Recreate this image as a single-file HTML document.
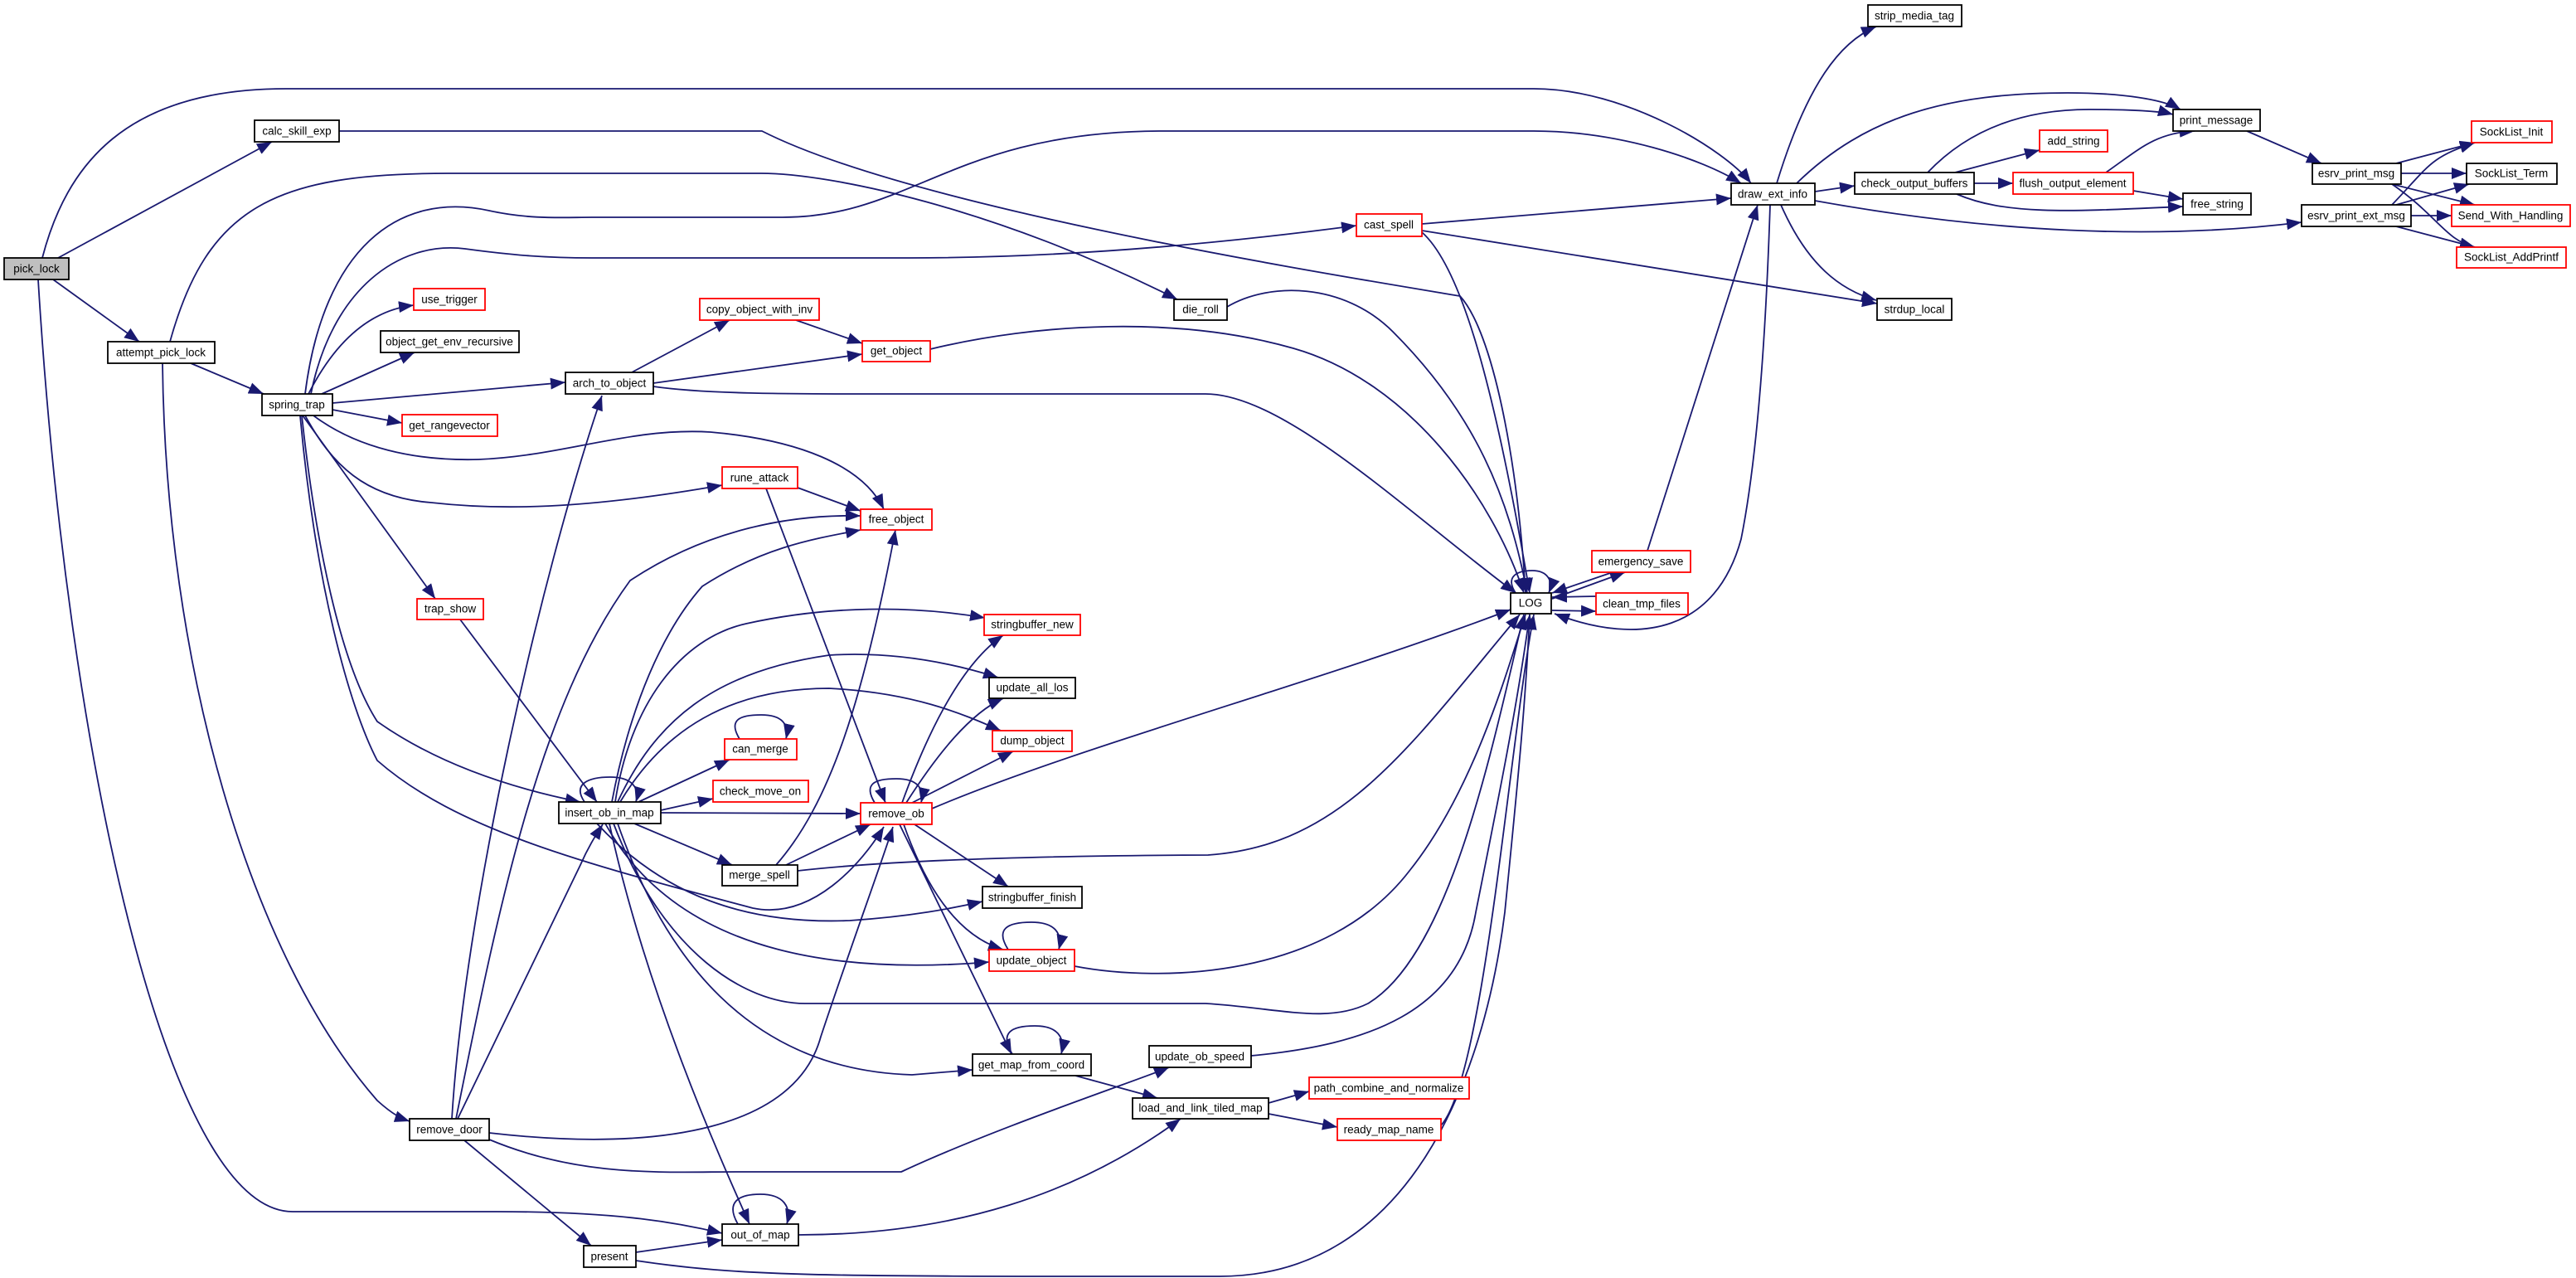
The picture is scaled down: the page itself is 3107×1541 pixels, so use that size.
<!DOCTYPE html>
<html><head><meta charset="utf-8"><style>
html,body{margin:0;padding:0;background:#fff;}
svg{display:block;}
text{font-family:"Liberation Sans",sans-serif;font-size:13.5px;text-anchor:middle;dominant-baseline:central;fill:#000;}
.e{fill:none;stroke:#191970;stroke-width:1.8;marker-end:url(#a);}
.n{fill:#fff;stroke:#000;stroke-width:1.8;}
.r{fill:#fff;stroke:#ff0000;stroke-width:1.8;}
</style></head><body>
<svg width="3107" height="1541" viewBox="0 0 3107 1541" xmlns="http://www.w3.org/2000/svg">
<defs><marker id="a" markerUnits="userSpaceOnUse" markerWidth="20" markerHeight="14" refX="18" refY="7" orient="auto"><path d="M0,0 L18,7 L0,14 Z" fill="#191970"/></marker></defs>
<g>
<path class="e" d="M51,311 C80,200 150,107 345,107 L1850,107 C1960,107 2080,180 2112,221"/>
<path class="e" d="M70,311 L328,171"/>
<path class="e" d="M64,337 L168,412"/>
<path class="e" d="M46,337 C80,900 200,1461 353,1461 L600,1461 C750,1461 820,1475 871,1487"/>
<path class="e" d="M409,158 L919,158 C1100,250 1600,330 1761,357 C1800,400 1830,550 1840,715"/>
<path class="e" d="M788,466 C850,475 950,475 1050,475 L1454,475 C1550,475 1700,620 1828,715"/>
<path class="e" d="M205,412 C250,250 330,209 540,209 L918,209 C1000,209 1200,250 1420,361"/>
<path class="e" d="M230,438 L318,475"/>
<path class="e" d="M196,438 C200,800 300,1150 455,1327 C475,1345 485,1349 494,1352"/>
<path class="e" d="M368,475 C390,300 480,230 590,254 C640,265 680,262 714,262 L944,262 C1100,262 1150,158 1403,158 L1850,158 C1950,158 2050,190 2100,221"/>
<path class="e" d="M375,475 C400,350 480,290 561,300 C620,308 660,311 714,311 L1097,311 C1300,311 1500,290 1636,272"/>
<path class="e" d="M372,475 C400,420 440,375 499,368"/>
<path class="e" d="M388,475 L500,425"/>
<path class="e" d="M401,486 L682,461"/>
<path class="e" d="M401,494 L485,510"/>
<path class="e" d="M378,501 C430,540 500,556 577,554 C680,550 760,515 857,521 C960,530 1040,560 1066,614"/>
<path class="e" d="M368,501 C400,560 440,600 520,606 C600,615 700,615 871,585"/>
<path class="e" d="M365,501 L525,722"/>
<path class="e" d="M364,501 C380,650 410,800 455,870 C540,930 640,955 700,967"/>
<path class="e" d="M362,501 C380,700 420,850 455,917 C550,1000 700,1040 908,1095 C980,1110 1040,1040 1066,997"/>
<path class="e" d="M762,449 L880,386"/>
<path class="e" d="M788,462 L1040,427"/>
<path class="e" d="M960,386 L1040,414"/>
<path class="e" d="M1122,421 C1250,390 1420,380 1560,420 C1700,460 1800,600 1838,715"/>
<path class="e" d="M545,1349 C560,1100 650,700 726,477"/>
<path class="e" d="M550,1349 C600,1100 650,850 760,700 C850,640 950,620 1038,622"/>
<path class="e" d="M552,1349 L700,1043 C710,1020 720,1005 727,994"/>
<path class="e" d="M590,1366 C800,1390 960,1360 990,1250 C1030,1130 1060,1050 1077,997"/>
<path class="e" d="M590,1374 C700,1420 800,1413 887,1413 L1087,1413 C1200,1360 1380,1300 1410,1287"/>
<path class="e" d="M560,1375 L713,1502"/>
<path class="e" d="M767,1510 L871,1495"/>
<path class="e" d="M767,1520 C900,1540 1000,1539 1471,1539 C1700,1539 1790,1300 1815,1100 C1830,950 1840,850 1845,741"/>
<path class="e" d="M890,1476 C875,1450 890,1440 917,1440 C945,1440 955,1455 949,1476"/>
<path class="e" d="M963,1489 C1150,1489 1300,1440 1424,1349"/>
<path class="e" d="M735,993 C780,1200 870,1400 904,1476"/>
<path class="e" d="M1297,1297 L1396,1324"/>
<path class="e" d="M1221,1271 C1205,1245 1220,1237 1248,1237 C1275,1237 1285,1250 1280,1271"/>
<path class="e" d="M1530,1330 L1579,1316"/>
<path class="e" d="M1530,1343 L1613,1359"/>
<path class="e" d="M1738,1357 C1790,1300 1820,900 1850,741"/>
<path class="e" d="M1509,1273 C1650,1260 1760,1220 1780,1100 C1810,950 1830,850 1845,741"/>
<path class="e" d="M1296,1165 C1400,1185 1600,1180 1700,1050 C1780,950 1820,800 1840,741"/>
<path class="e" d="M1216,1145 C1200,1120 1215,1112 1244,1112 C1272,1112 1282,1125 1277,1145"/>
<path class="e" d="M1124,975 C1300,900 1600,820 1822,735"/>
<path class="e" d="M962,1050 C1050,1040 1200,1032 1457,1031 C1620,1020 1700,900 1833,741"/>
<path class="e" d="M740,993 C800,1150 900,1210 971,1210 L1454,1210 C1540,1215 1600,1235 1650,1210 C1750,1150 1800,900 1838,741"/>
<path class="e" d="M730,993 C800,1120 950,1180 1193,1160"/>
<path class="e" d="M720,993 C800,1080 900,1115 1025,1110 C1100,1105 1150,1095 1185,1087"/>
<path class="e" d="M745,993 C800,1150 900,1290 1100,1296 L1173,1290"/>
<path class="e" d="M765,993 L883,1043"/>
<path class="e" d="M797,980 L1038,981"/>
<path class="e" d="M797,977 L860,963"/>
<path class="e" d="M770,967 L880,916"/>
<path class="e" d="M738,967 C760,850 800,760 847,707 C920,660 980,650 1038,639"/>
<path class="e" d="M742,967 C760,850 820,770 900,752 C1000,730 1100,730 1188,745"/>
<path class="e" d="M745,967 C790,870 860,810 1000,790 C1080,785 1150,800 1204,817"/>
<path class="e" d="M748,967 C800,880 880,830 1000,830 C1100,835 1160,860 1207,881"/>
<path class="e" d="M705,967 C690,945 710,937 736,937 C762,937 772,950 767,967"/>
<path class="e" d="M892,891 C878,868 892,862 918,862 C943,862 952,873 948,891"/>
<path class="e" d="M1055,968 C1041,945 1055,939 1081,939 C1106,939 1115,950 1111,968"/>
<path class="e" d="M962,588 L1038,616"/>
<path class="e" d="M924,589 L1068,968"/>
<path class="e" d="M936,1043 C1000,970 1040,850 1080,639"/>
<path class="e" d="M948,1043 L1050,994"/>
<path class="e" d="M555,747 L720,967"/>
<path class="e" d="M1088,968 C1120,880 1160,800 1210,766"/>
<path class="e" d="M1093,968 C1130,910 1170,860 1210,842"/>
<path class="e" d="M1100,968 L1222,906"/>
<path class="e" d="M1103,994 L1216,1069"/>
<path class="e" d="M1090,994 C1120,1080 1160,1130 1210,1145"/>
<path class="e" d="M1085,994 L1220,1271"/>
<path class="e" d="M1715,270 L2088,239"/>
<path class="e" d="M1715,278 L2264,366"/>
<path class="e" d="M1715,280 C1760,320 1800,450 1845,715"/>
<path class="e" d="M1480,370 C1530,340 1620,340 1680,400 C1780,500 1820,600 1842,715"/>
<path class="e" d="M1828,715 C1815,695 1830,688 1848,688 C1866,688 1874,700 1868,715"/>
<path class="e" d="M1872,722 L1960,690"/>
<path class="e" d="M1945,690 L1872,715"/>
<path class="e" d="M1925,719 L1872,720"/>
<path class="e" d="M1872,736 L1925,737"/>
<path class="e" d="M1987,664 L2120,247"/>
<path class="e" d="M2135,247 C2130,400 2120,550 2100,650 C2070,760 1980,780 1875,740"/>
<path class="e" d="M2143,221 C2180,100 2220,50 2263,32"/>
<path class="e" d="M2189,231 L2237,224"/>
<path class="e" d="M2167,221 C2250,140 2350,112 2494,112 C2560,112 2610,120 2630,132"/>
<path class="e" d="M2148,247 C2180,320 2220,350 2263,362"/>
<path class="e" d="M2189,242 C2400,280 2600,290 2776,268"/>
<path class="e" d="M2325,208 C2380,150 2450,132 2520,132 C2580,132 2610,135 2621,138"/>
<path class="e" d="M2358,208 L2460,181"/>
<path class="e" d="M2381,221 L2428,221"/>
<path class="e" d="M2360,234 C2420,260 2500,255 2633,249"/>
<path class="e" d="M2540,208 C2580,180 2600,160 2647,158"/>
<path class="e" d="M2573,230 L2633,240"/>
<path class="e" d="M2710,158 L2800,197"/>
<path class="e" d="M2890,197 L2985,172"/>
<path class="e" d="M2896,209 L2975,209"/>
<path class="e" d="M2885,222 L2985,247"/>
<path class="e" d="M2885,222 C2940,260 2950,290 2985,298"/>
<path class="e" d="M2885,247 C2930,200 2930,190 2985,172"/>
<path class="e" d="M2890,247 L2978,222"/>
<path class="e" d="M2908,260 L2957,260"/>
<path class="e" d="M2890,273 L2985,298"/>
</g>
<g>
<rect x="5" y="311" width="78" height="26" fill="#bfbfbf" stroke="#000" stroke-width="1.8"/><text x="44" y="324">pick_lock</text>
<rect class="n" x="307" y="145" width="102" height="26"/><text x="358" y="158">calc_skill_exp</text>
<rect class="n" x="130" y="412" width="129" height="26"/><text x="194" y="425">attempt_pick_lock</text>
<rect class="n" x="316" y="475" width="85" height="26"/><text x="358" y="488">spring_trap</text>
<rect class="r" x="499" y="348" width="86" height="26"/><text x="542" y="361">use_trigger</text>
<rect class="n" x="459" y="399" width="167" height="26"/><text x="542" y="412">object_get_env_recursive</text>
<rect class="r" x="485" y="500" width="115" height="26"/><text x="542" y="513">get_rangevector</text>
<rect class="n" x="682" y="449" width="106" height="26"/><text x="735" y="462">arch_to_object</text>
<rect class="r" x="844" y="360" width="144" height="26"/><text x="916" y="373">copy_object_with_inv</text>
<rect class="r" x="1040" y="411" width="82" height="25"/><text x="1081" y="423">get_object</text>
<rect class="n" x="1416" y="361" width="64" height="25"/><text x="1448" y="373">die_roll</text>
<rect class="r" x="1636" y="258" width="79" height="27"/><text x="1675" y="271">cast_spell</text>
<rect class="r" x="871" y="563" width="91" height="26"/><text x="916" y="576">rune_attack</text>
<rect class="r" x="1038" y="614" width="86" height="25"/><text x="1081" y="626">free_object</text>
<rect class="r" x="503" y="722" width="80" height="25"/><text x="543" y="734">trap_show</text>
<rect class="r" x="1187" y="741" width="116" height="25"/><text x="1245" y="753">stringbuffer_new</text>
<rect class="n" x="1193" y="817" width="104" height="25"/><text x="1245" y="829">update_all_los</text>
<rect class="r" x="1197" y="881" width="96" height="25"/><text x="1245" y="893">dump_object</text>
<rect class="r" x="874" y="891" width="87" height="25"/><text x="917" y="903">can_merge</text>
<rect class="r" x="860" y="941" width="115" height="26"/><text x="917" y="954">check_move_on</text>
<rect class="n" x="674" y="967" width="123" height="26"/><text x="735" y="980">insert_ob_in_map</text>
<rect class="r" x="1038" y="968" width="86" height="26"/><text x="1081" y="981">remove_ob</text>
<rect class="n" x="871" y="1043" width="91" height="25"/><text x="916" y="1055">merge_spell</text>
<rect class="n" x="1185" y="1069" width="120" height="26"/><text x="1245" y="1082">stringbuffer_finish</text>
<rect class="r" x="1193" y="1145" width="103" height="26"/><text x="1244" y="1158">update_object</text>
<rect class="n" x="1173" y="1271" width="143" height="26"/><text x="1244" y="1284">get_map_from_coord</text>
<rect class="n" x="1386" y="1261" width="123" height="26"/><text x="1447" y="1274">update_ob_speed</text>
<rect class="n" x="1366" y="1324" width="164" height="25"/><text x="1448" y="1336">load_and_link_tiled_map</text>
<rect class="r" x="1579" y="1299" width="193" height="26"/><text x="1675" y="1312">path_combine_and_normalize</text>
<rect class="r" x="1613" y="1349" width="125" height="26"/><text x="1675" y="1362">ready_map_name</text>
<rect class="n" x="494" y="1349" width="96" height="26"/><text x="542" y="1362">remove_door</text>
<rect class="n" x="871" y="1476" width="92" height="26"/><text x="917" y="1489">out_of_map</text>
<rect class="n" x="704" y="1502" width="63" height="26"/><text x="735" y="1515">present</text>
<rect class="n" x="1822" y="715" width="49" height="25"/><text x="1846" y="727">LOG</text>
<rect class="r" x="1920" y="664" width="119" height="26"/><text x="1979" y="677">emergency_save</text>
<rect class="r" x="1925" y="715" width="111" height="26"/><text x="1980" y="728">clean_tmp_files</text>
<rect class="n" x="2088" y="221" width="101" height="26"/><text x="2138" y="234">draw_ext_info</text>
<rect class="n" x="2253" y="6" width="113" height="26"/><text x="2309" y="19">strip_media_tag</text>
<rect class="n" x="2264" y="360" width="90" height="26"/><text x="2309" y="373">strdup_local</text>
<rect class="n" x="2237" y="208" width="144" height="26"/><text x="2309" y="221">check_output_buffers</text>
<rect class="r" x="2460" y="157" width="82" height="26"/><text x="2501" y="170">add_string</text>
<rect class="r" x="2428" y="208" width="145" height="26"/><text x="2500" y="221">flush_output_element</text>
<rect class="n" x="2621" y="132" width="105" height="26"/><text x="2673" y="145">print_message</text>
<rect class="n" x="2633" y="233" width="82" height="26"/><text x="2674" y="246">free_string</text>
<rect class="n" x="2789" y="197" width="107" height="25"/><text x="2842" y="209">esrv_print_msg</text>
<rect class="n" x="2776" y="247" width="132" height="26"/><text x="2842" y="260">esrv_print_ext_msg</text>
<rect class="r" x="2981" y="146" width="97" height="26"/><text x="3029" y="159">SockList_Init</text>
<rect class="n" x="2975" y="197" width="109" height="25"/><text x="3029" y="209">SockList_Term</text>
<rect class="r" x="2957" y="247" width="143" height="26"/><text x="3028" y="260">Send_With_Handling</text>
<rect class="r" x="2963" y="298" width="132" height="25"/><text x="3029" y="310">SockList_AddPrintf</text>
</g>
</svg>
</body></html>
